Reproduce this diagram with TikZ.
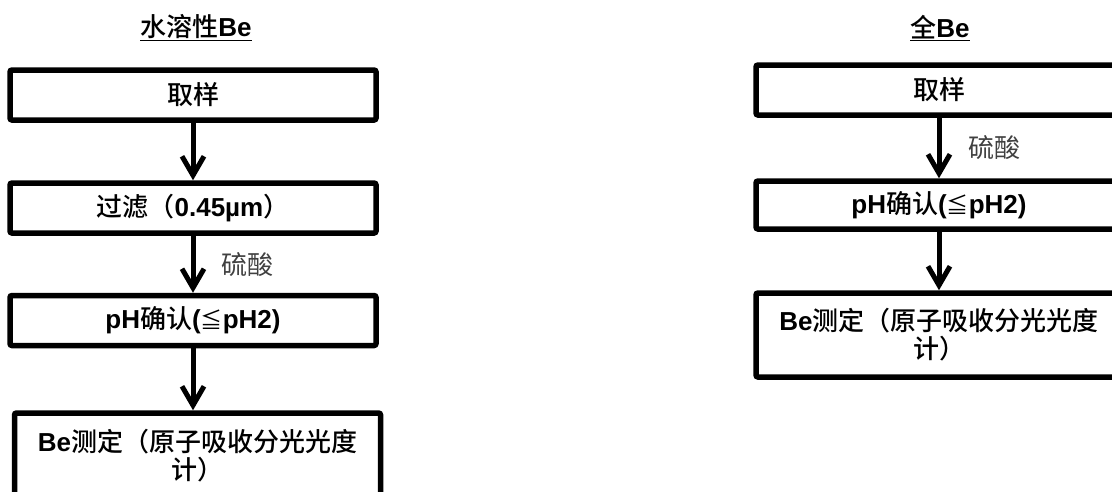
\documentclass[tikz,border=0pt]{standalone}
\usepackage{fontspec}
\setmainfont{Liberation Sans}
\newfontfamily\cjk{Noto Sans CJK SC}[BoldFont={Noto Sans CJK SC Medium}]
\usetikzlibrary{arrows.meta}
\newcommand\phle{{\cjk\mdseries\fontsize{22}{28}\selectfont ≦}}
\begin{document}
\begin{tikzpicture}[x=1pt,y=-1pt,every node/.style={font=\fontsize{26}{28}\selectfont},
  stepbox/.style={draw,line width=5.5pt,rounded corners=2pt,minimum width=366pt,minimum height=50pt,inner sep=0pt,align=center,font=\fontsize{26}{28}\selectfont\bfseries},
  flow/.style={line width=5pt,-{Straight Barb[length=19pt,width=22pt]}},
  acid/.style={font=\fontsize{26}{28}\selectfont\cjk,text=black!75},
  heading/.style={font=\fontsize{26}{28}\selectfont\bfseries}]
\useasboundingbox (0,0) rectangle (1112,491);
% left column
\node[heading] (tl) at (196,28) {\underline{{\cjk 水溶性}Be}};
\node[stepbox] (l1) at (193,95) {\cjk 取样};
\node[stepbox] (l2) at (193,208) {{\cjk 过滤（}0.45µm{\cjk ）}};
\node[stepbox] (l3) at (193,320.5) {pH{\cjk 确认}(\phle pH2)};
\node[stepbox,minimum height=86pt] (l4) at (197.5,456) {Be{\cjk 测定（原子吸收分光光度}\\{\cjk 计）}};
\draw[flow](l1)--(l2); \draw[flow](l2)--(l3) node[midway,right=23pt,acid](la){硫酸};
\draw[flow](l3.south)--(l3.south|-l4.north);
% right column
\node[heading] (tr) at (940,28) {\underline{{\cjk 全}Be}};
\node[stepbox] (r1) at (939,90) {\cjk 取样};
\node[stepbox,minimum height=48pt] (r2) at (939,205) {pH{\cjk 确认}(\phle pH2)};
\node[stepbox,minimum height=84pt] (r3) at (939,335) {Be{\cjk 测定（原子吸收分光光度}\\{\cjk 计）}};
\draw[flow](r1)--(r2) node[midway,right=24pt,acid](ra){硫酸}; \draw[flow](r2)--(r3);
\end{tikzpicture}
\end{document}
